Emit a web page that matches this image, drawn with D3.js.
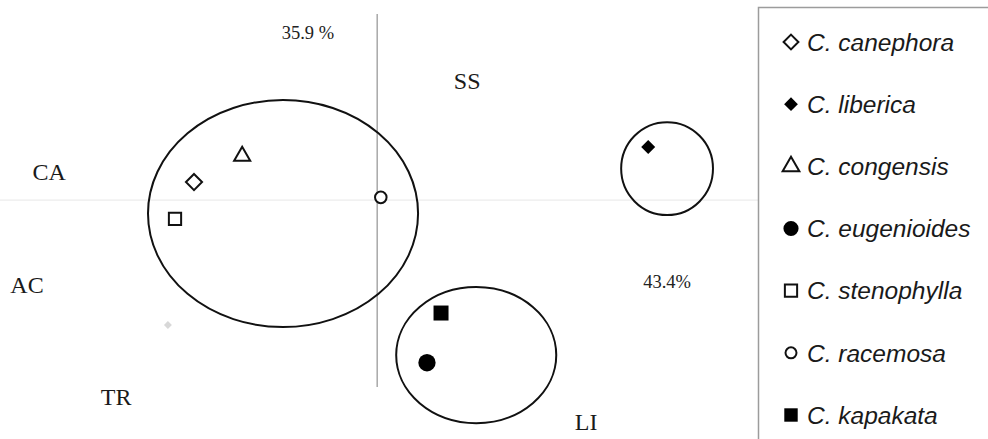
<!DOCTYPE html>
<html>
<head>
<meta charset="utf-8">
<script src="https://cdn.jsdelivr.net/npm/d3@7"></script>
<style>
body{margin:0;background:#fff;}
svg{display:block;}
</style>
</head>
<body>
<script>
// species scores (PC1, PC2)
const species=["C. canephora","C. liberica","C. congensis","C. eugenioides","C. stenophylla","C. racemosa","C. kapakata"];
const pc1=[-2.035,3.01,-1.50,0.553,-2.246,0.04,0.709];
const pc2=[0.20,0.59,0.49,-1.81,-0.21,0.03,-1.257];

// trait labels
const traits=["SS","CA","AC","TR","LI"];
const traitX=[1.0,-3.645,-3.89,-2.90,2.32];
const traitY=[1.33,0.32,-0.94,-2.19,-2.46];

// groups (ellipses)
const groupX=[-1.046,3.22,1.10];
const groupY=[-0.15,0.35,-1.725];
const groupRx=[1.50,0.51,0.889];
const groupRy=[1.263,0.517,0.757];

// explained variance
const variance=["35.9 %","43.4%"];
const varianceX=[-0.77,3.22];
const varianceY=[1.86,-0.91];

// stray grey point
const strayX=[-2.325];
const strayY=[-1.39];

const w=988,h=439;

const svg=d3.select("body").append("svg")
  .attr("width",w)
  .attr("height",h)

const xScale=d3.scaleLinear().domain([-4.19,4.23]).range([0,758])
const yScale=d3.scaleLinear().domain([-2.08,2.07]).range([387,14])

const kx=xScale(1)-xScale(0)
const ky=yScale(0)-yScale(1)

// marker styles
const marks={
  "C. canephora":{type:d3.symbolDiamond2,size:165,fill:"#fff"},
  "C. liberica":{type:d3.symbolDiamond2,size:125,fill:"#000"},
  "C. congensis":{type:d3.symbolTriangle2,size:185,fill:"#fff"},
  "C. eugenioides":{type:d3.symbolCircle,size:235,fill:"#000"},
  "C. stenophylla":{type:d3.symbolSquare,size:150,fill:"#fff"},
  "C. racemosa":{type:d3.symbolCircle,size:105,fill:"#fff"},
  "C. kapakata":{type:d3.symbolSquare,size:225,fill:"#000"}
}
const legendMarks={
  "C. canephora":{size:140},
  "C. liberica":{size:120},
  "C. congensis":{size:200},
  "C. eugenioides":{size:180},
  "C. stenophylla":{size:150},
  "C. racemosa":{size:95},
  "C. kapakata":{size:180}
}

//axes
svg.append("line")
  .attr("x1",xScale.range()[0]).attr("x2",xScale.range()[1])
  .attr("y1",yScale(0)).attr("y2",yScale(0))
  .attr("stroke","#ececec").attr("stroke-width",1.2)

svg.append("line")
  .attr("x1",xScale(0)).attr("x2",xScale(0))
  .attr("y1",yScale.range()[0]).attr("y2",yScale.range()[1])
  .attr("stroke","#a8a8a8").attr("stroke-width",1.5)

//ellipses
svg.selectAll("ellipse")
  .data(groupX)
  .enter()
  .append("ellipse")
  .attr("cx",(d)=>xScale(d))
  .attr("cy",(d,i)=>yScale(groupY[i]))
  .attr("rx",(d,i)=>groupRx[i]*kx)
  .attr("ry",(d,i)=>groupRy[i]*ky)
  .attr("fill","none")
  .attr("stroke","#111")
  .attr("stroke-width",2)

//stray point
svg.selectAll(".stray")
  .data(strayX)
  .enter()
  .append("path")
  .attr("class","stray")
  .attr("d",d3.symbol(d3.symbolDiamond2,40))
  .attr("transform",(d,i)=>"translate("+xScale(d)+","+yScale(strayY[i])+")")
  .attr("fill","#d8d8d8")

//species points
svg.selectAll(".dot")
  .data(species)
  .enter()
  .append("path")
  .attr("class","dot")
  .attr("d",d=>d3.symbol(marks[d].type,marks[d].size)())
  .attr("transform",(d,i)=>"translate("+xScale(pc1[i])+","+yScale(pc2[i])+")")
  .attr("fill",d=>marks[d].fill)
  .attr("stroke","#111")
  .attr("stroke-width",d=>marks[d].fill=="#000"?0:2)

//trait labels
svg.selectAll(".trait")
  .data(traits)
  .enter()
  .append("text")
  .attr("class","trait")
  .attr("x",(d,i)=>xScale(traitX[i]))
  .attr("y",(d,i)=>yScale(traitY[i]))
  .attr("dy","0.35em")
  .attr("text-anchor","middle")
  .style("font-family","'Liberation Serif','Times New Roman',serif")
  .style("font-size","24px")
  .attr("fill","#1a1a1a")
  .text(d=>d)

//variance labels
svg.selectAll(".variance")
  .data(variance)
  .enter()
  .append("text")
  .attr("class","variance")
  .attr("x",(d,i)=>xScale(varianceX[i]))
  .attr("y",(d,i)=>yScale(varianceY[i]))
  .attr("dy","0.35em")
  .attr("text-anchor","middle")
  .style("font-family","'Liberation Serif','Times New Roman',serif")
  .style("font-size","18.5px")
  .attr("fill","#222")
  .text(d=>d)

//legend
const legendY=d3.scalePoint().domain(species).range([42,415])

svg.append("rect")
  .attr("x",758.5).attr("y",7.5)
  .attr("width",260).attr("height",460)
  .attr("fill","#fff")
  .attr("stroke","#9c9c9c")
  .attr("stroke-width",1.5)

const leg=svg.selectAll(".leg")
  .data(species)
  .enter()
  .append("g")
  .attr("class","leg")
  .attr("transform",d=>"translate(0,"+legendY(d)+")")

leg.append("path")
  .attr("d",d=>d3.symbol(marks[d].type,legendMarks[d].size)())
  .attr("transform","translate(791,0)")
  .attr("fill",d=>marks[d].fill)
  .attr("stroke","#111")
  .attr("stroke-width",d=>marks[d].fill=="#000"?0:2)

leg.append("text")
  .attr("x",807)
  .attr("dy","0.36em")
  .style("font-family","'Liberation Sans',Arial,sans-serif")
  .style("font-style","italic")
  .style("font-size","24.5px")
  .attr("fill","#1a1a1a")
  .text(d=>d)
</script>
</body>
</html>
